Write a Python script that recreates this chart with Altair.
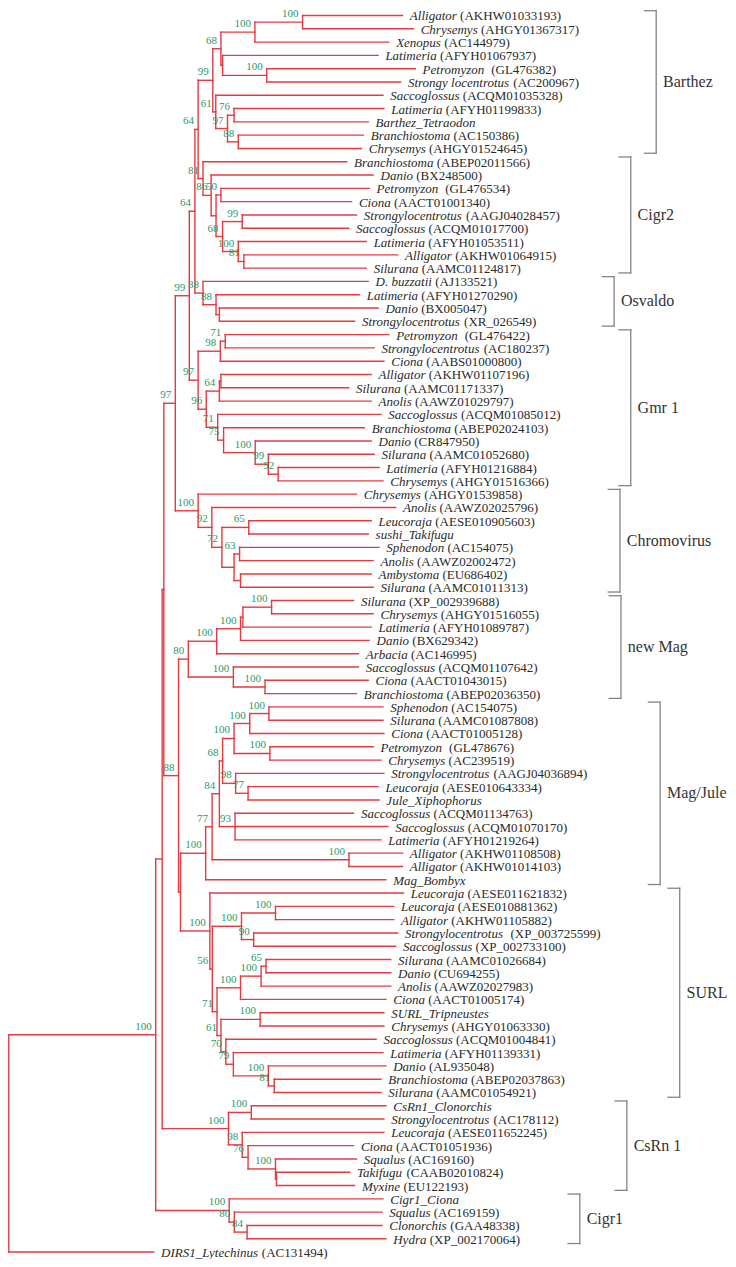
import altair as alt
import pandas as pd

# ---------------- data ----------------
genus = ["Alligator", "Chrysemys", "Xenopus", "Latimeria", "Petromyzon", "Strongy locentrotus",
         "Saccoglossus", "Latimeria", "Barthez_Tetraodon", "Branchiostoma", "Chrysemys",
         "Branchiostoma", "Danio", "Petromyzon", "Ciona", "Strongylocentrotus", "Saccoglossus",
         "Latimeria", "Alligator", "Silurana",
         "D. buzzatii", "Latimeria", "Danio", "Strongylocentrotus",
         "Petromyzon", "Strongylocentrotus", "Ciona", "Alligator", "Silurana", "Anolis",
         "Saccoglossus", "Branchiostoma", "Danio", "Silurana", "Latimeria", "Chrysemys",
         "Chrysemys", "Anolis", "Leucoraja", "sushi_Takifugu", "Sphenodon", "Anolis",
         "Ambystoma", "Silurana",
         "Silurana", "Chrysemys", "Latimeria", "Danio", "Arbacia", "Saccoglossus", "Ciona",
         "Branchiostoma",
         "Sphenodon", "Silurana", "Ciona", "Petromyzon", "Chrysemys", "Strongylocentrotus",
         "Leucoraja", "Jule_Xiphophorus", "Saccoglossus", "Saccoglossus", "Latimeria",
         "Alligator", "Alligator", "Mag_Bombyx",
         "Leucoraja", "Leucoraja", "Alligator", "Strongylocentrotus", "Saccoglossus", "Silurana",
         "Danio", "Anolis", "Ciona", "SURL_Tripneustes", "Chrysemys", "Saccoglossus",
         "Latimeria", "Danio", "Branchiostoma", "Silurana",
         "CsRn1_Clonorchis", "Strongylocentrotus", "Leucoraja", "Ciona", "Squalus", "Takifugu",
         "Myxine",
         "Cigr1_Ciona", "Squalus", "Clonorchis", "Hydra",
         "DIRS1_Lytechinus"]

accession = ["(AKHW01033193)", "(AHGY01367317)", "(AC144979)", "(AFYH01067937)", " (GL476382)",
             "(AC200967)", "(ACQM01035328)", "(AFYH01199833)", "", "(AC150386)", "(AHGY01524645)",
             "(ABEP02011566)", "(BX248500)", " (GL476534)", "(AACT01001340)", "(AAGJ04028457)",
             "(ACQM01017700)", "(AFYH01053511)", "(AKHW01064915)", "(AAMC01124817)",
             "(AJ133521)", "(AFYH01270290)", "(BX005047)", "(XR_026549)",
             " (GL476422)", "(AC180237)", "(AABS01000800)", "(AKHW01107196)", "(AAMC01171337)",
             "(AAWZ01029797)", "(ACQM01085012)", "(ABEP02024103)", "(CR847950)", "(AAMC01052680)",
             "(AFYH01216884)", "(AHGY01516366)",
             "(AHGY01539858)", "(AAWZ02025796)", "(AESE010905603)", "", "(AC154075)",
             "(AAWZ02002472)", "(EU686402)", "(AAMC01011313)",
             "(XP_002939688)", "(AHGY01516055)", "(AFYH01089787)", "(BX629342)", "(AC146995)",
             "(ACQM01107642)", "(AACT01043015)", "(ABEP02036350)",
             "(AC154075)", "(AAMC01087808)", "(AACT01005128)", " (GL478676)", "(AC239519)",
             "(AAGJ04036894)", "(AESE010643334)", "", "(ACQM01134763)", "(ACQM01070170)",
             "(AFYH01219264)", "(AKHW01108508)", "(AKHW01014103)", "",
             "(AESE011621832)", "(AESE010881362)", "(AKHW01105882)", " (XP_003725599)",
             "(XP_002733100)", "(AAMC01026684)", "(CU694255)", "(AAWZ02027983)", "(AACT01005174)",
             "", "(AHGY01063330)", "(ACQM01004841)", "(AFYH01139331)", "(AL935048)",
             "(ABEP02037863)", "(AAMC01054921)",
             "", "(AC178112)", "(AESE011652245)", "(AACT01051936)", "(AC169160)",
             "(CAAB02010824)", "(EU122193)",
             "", "(AC169159)", "(GAA48338)", "(XP_002170064)",
             "(AC131494)"]

# distance of each leaf tip from the root (tree units)
leaf_depth = [402, 413, 388, 377, 415, 400, 382, 383, 367, 362, 360,
              345, 372, 368, 350, 355, 347, 365, 397, 365,
              367, 358, 377, 353,
              388, 373, 383, 370, 347, 370, 380, 363, 370, 373, 378, 382,
              355, 395, 370, 367, 378, 372, 370, 372,
              352, 372, 370, 368, 357, 357, 367, 355,
              382, 382, 383, 372, 380, 383, 377, 378, 352, 387, 380, 402, 402, 385,
              403, 393, 393, 397, 395, 390, 390, 390, 385, 383, 383, 375, 382, 385, 380, 380,
              385, 383, 383, 352, 355, 348, 353,
              382, 381, 381, 385,
              148]

# internal nodes: (name, depth from root, bootstrap support, children)
# children: int = leaf number (1-based), str = internal node name
nodes = [
    ("AC", 300.0, 100, [1, 2]), ("ACX", 251.3, 100, ["AC", 3]), ("PS", 263.3, 100, [5, 6]),
    ("LPS", 218.3, None, [4, "PS"]), ("B68", 216.6, 68, ["ACX", "LPS"]),
    ("LB", 230.0, 76, [8, 9]), ("BC", 234.3, 88, [10, 11]), ("B97", 223.3, 97, ["LB", "BC"]),
    ("B61", 211.3, 61, [7, "B97"]), ("B99", 208.3, 99, ["B68", "B61"]),
    ("PC", 216.6, 50, [14, 15]), ("SS", 238.3, 99, [16, 17]), ("AS", 240.0, 81, [19, 20]),
    ("C100", 234.3, 100, [18, "AS"]), ("C68", 218.3, 68, ["SS", "C100"]),
    ("PCX", 211.6, None, ["PC", "C68"]), ("C86", 206.6, 86, [13, "PCX"]),
    ("C81", 198.3, 81, [12, "C86"]), ("T64a", 193.3, 64, ["B99", "C81"]),
    ("DS", 215.0, None, [23, 24]), ("LDS", 211.6, 88, [22, "DS"]), ("Osv", 198.3, 88, [21, "LDS"]),
    ("T64b", 190.0, 64, ["T64a", "Osv"]),
    ("PS2", 221.0, 71, [25, 26]), ("G98", 216.0, 98, ["PS2", 27]), ("ASg", 216.6, None, [28, 29]),
    ("G64", 215.0, 64, ["ASg", 30]), ("G92", 275.0, 92, [35, 36]), ("G99", 265.0, 99, [34, "G92"]),
    ("G100", 251.6, 100, [33, "G99"]), ("G75", 219.3, 75, [32, "G100"]),
    ("G71", 213.3, 71, [31, "G75"]), ("G96", 201.6, 96, ["G64", "G71"]),
    ("G97", 193.3, 97, ["G98", "G96"]), ("T99", 184.3, 99, ["T64b", "G97"]),
    ("H65", 245.0, 65, [39, 40]), ("SA", 235.6, 63, [41, 42]), ("AmS", 236.6, None, [43, 44]),
    ("H63", 230.0, None, ["SA", "AmS"]), ("H72", 217.6, 72, ["H65", "H63"]),
    ("H92", 207.3, 92, [38, "H72"]), ("H100", 193.3, 100, [37, "H92"]),
    ("T97", 170.0, 97, ["T99", "H100"]),
    ("SC", 268.3, 100, [45, 46]), ("SCL", 239.0, None, ["SC", 47]),
    ("N100", 236.6, 100, ["SCL", 48]), ("N100b", 212.3, 100, ["N100", 49]),
    ("CB", 261.6, 100, [51, 52]), ("SCB", 229.3, 100, [50, "CB"]),
    ("N80", 183.3, 80, ["N100b", "SCB"]),
    ("SS2", 265.6, 100, [53, 54]), ("SSC", 246.0, 100, ["SS2", 55]), ("PC2", 266.6, 100, [56, 57]),
    ("M100", 230.0, 100, ["SSC", "PC2"]), ("LJ", 244.3, 77, [59, 60]),
    ("M98", 231.6, 98, [58, "LJ"]), ("M68", 218.3, 68, ["M100", "M98"]),
    ("M93", 231.0, 93, [61, 62, 63]), ("M84", 215.0, 84, ["M68", "M93"]),
    ("AA", 347.3, 100, [64, 65]), ("M77", 207.6, 77, ["M84", "AA"]),
    ("M100b", 201.0, 100, ["M77", 66]),
    ("LA", 272.3, 100, [68, 69]), ("SS3", 250.0, 90, [70, 71]), ("S100a", 237.6, 100, ["LA", "SS3"]),
    ("SD", 262.6, 65, [72, 73]), ("SDA", 257.6, 100, ["SD", 74]), ("S100b", 236.6, 100, ["SDA", 75]),
    ("SC3", 256.6, 100, [76, 77]), ("S81", 271.0, 81, [81, 82]), ("S100c", 265.0, 100, [80, "S81"]),
    ("S79", 229.3, 79, [79, "S100c"]), ("S70", 221.6, 70, [78, "S79"]),
    ("S61", 216.6, 61, ["SC3", "S70"]), ("S71", 212.6, 71, ["S100b", "S61"]),
    ("S56", 207.8, 56, ["S100a", "S71"]), ("S100", 205.3, 100, [67, "S56"]),
    ("MS", 175.3, None, ["M100b", "S100"]), ("T88", 173.3, 88, ["N80", "MS"]),
    ("Q", 158.3, None, ["T97", "T88"]),
    ("CS", 247.6, 100, [83, 84]), ("TM", 273.3, None, [88, 89]), ("R100", 272.3, 100, [87, "TM"]),
    ("R76", 244.3, 76, [86, "R100"]), ("R98", 238.3, 98, [85, "R76"]),
    ("R100b", 224.3, 100, ["CS", "R98"]), ("P1", 156.6, None, ["Q", "R100b"]),
    ("CH", 243.3, 84, [92, 93]), ("K80", 230.3, 80, [91, "CH"]), ("K100", 225.0, 100, [90, "K80"]),
    ("T100", 150.0, 100, ["P1", "K100"]),
    ("root", 0.0, None, ["T100", 94]),
]

clade_names = ["Barthez", "Cigr2", "Osvaldo", "Gmr 1", "Chromovirus", "new Mag", "Mag/Jule",
               "SURL", "CsRn 1", "Cigr1"]
clade_first = [1, 12, 21, 25, 37, 45, 53, 67, 83, 90]
clade_last = [11, 20, 24, 36, 44, 52, 66, 82, 89, 93]

# ---------------- style / layout ----------------
RED = "#e53a41"
GREEN = "#2a9a68"
TEXT = "#2a2a2a"
GREY = "#858585"
FONT = "Liberation Serif"
LEAF_FS = 13
BOOT_FS = 11
CLADE_FS = 16
W, H = 720, 1251
X_DOM = [-0.8, 734.3]
Y_DOM = [-0.564, 93.524]
PX_PER_UNIT = W / (X_DOM[1] - X_DOM[0])
LABEL_GAP = 7.5
bracket_depth = [661, 635, 618, 635, 624, 625, 665, 685, 631, 583]
TICK = 12
HALF = 0.36

ITALIC = dict(zip("ABCDEFGHIJKLMNOPQRSTUVWXYZ",
                  [611, 611, 667, 722, 611, 611, 722, 722, 333, 444, 667, 556, 833, 667, 722,
                   611, 722, 611, 500, 556, 722, 611, 833, 611, 556, 556]))
ITALIC.update(dict(zip("abcdefghijklmnopqrstuvwxyz",
                       [500, 500, 444, 500, 444, 278, 500, 500, 278, 278, 444, 278, 722, 500,
                        500, 500, 500, 389, 389, 278, 500, 444, 667, 444, 444, 389])))
ITALIC.update({c: 500 for c in "0123456789"})
ITALIC.update({" ": 250, ".": 250, "_": 500})


def italic_px(s):
    return sum(ITALIC.get(c, 500) for c in s) * LEAF_FS / 1000.0


# ---------------- tree layout ----------------
pos_y = {i + 1: float(i) for i in range(len(genus))}
pos_x = {i + 1: float(d) for i, d in enumerate(leaf_depth)}
segs = []
boot = []
for name, depth, sup, kids in nodes:
    ys = [pos_y[k] for k in kids]
    pos_x[name] = depth
    pos_y[name] = (ys[0] + ys[-1]) / 2.0
    segs.append({"x": depth, "x2": depth, "y": ys[0], "y2": ys[-1]})
    for k in kids:
        segs.append({"x": depth, "x2": pos_x[k], "y": pos_y[k], "y2": pos_y[k]})
    if sup is not None:
        boot.append({"x": depth, "y": pos_y[name], "t": str(sup)})

seg_df = pd.DataFrame(segs)
boot_df = pd.DataFrame(boot)

leaf_rows = []
for i, (g, a) in enumerate(zip(genus, accession)):
    lead = len(a) - len(a.lstrip(" "))
    gx = leaf_depth[i] + LABEL_GAP
    ax = gx + (italic_px(g) + (1 + lead) * 0.25 * LEAF_FS) / PX_PER_UNIT
    leaf_rows.append({"gx": gx, "ax": ax, "y": float(i), "g": g, "a": a.strip()})
leaf_df = pd.DataFrame(leaf_rows)

br = []
cl = []
for n, f, l, bx in zip(clade_names, clade_first, clade_last, bracket_depth):
    top, bot = f - 1 - HALF, l - 1 + HALF
    br.append({"x": bx, "x2": bx, "y": top, "y2": bot})
    br.append({"x": bx - TICK, "x2": bx, "y": top, "y2": top})
    br.append({"x": bx - TICK, "x2": bx, "y": bot, "y2": bot})
    cl.append({"x": bx + 7, "y": (top + bot) / 2.0, "t": n})
br_df = pd.DataFrame(br)
cl_df = pd.DataFrame(cl)

XS = alt.Scale(domain=X_DOM, nice=False, zero=False)
YS = alt.Scale(domain=Y_DOM, nice=False, zero=False, reverse=True)


def xy(xf="x", yf="y"):
    return dict(x=alt.X(f"{xf}:Q", scale=XS, axis=None), y=alt.Y(f"{yf}:Q", scale=YS, axis=None))


tree = alt.Chart(seg_df).mark_rule(color=RED, strokeWidth=1.4, strokeCap="square").encode(
    **xy(), x2="x2:Q", y2="y2:Q")
brackets = alt.Chart(br_df).mark_rule(color=GREY, strokeWidth=1.3, strokeCap="square").encode(
    **xy(), x2="x2:Q", y2="y2:Q")
gtext = alt.Chart(leaf_df).mark_text(align="left", baseline="middle", font=FONT, fontSize=LEAF_FS,
                                     fontStyle="italic", color=TEXT, dy=1).encode(
    **xy("gx"), text="g:N")
atext = alt.Chart(leaf_df).mark_text(align="left", baseline="middle", font=FONT, fontSize=LEAF_FS,
                                     color=TEXT, dy=1).encode(**xy("ax"), text="a:N")
btext = alt.Chart(boot_df).mark_text(align="right", baseline="middle", font=FONT, fontSize=BOOT_FS,
                                     color=GREEN, dx=-4, dy=-8).encode(**xy(), text="t:N")
ctext = alt.Chart(cl_df).mark_text(align="left", baseline="middle", font=FONT, fontSize=CLADE_FS,
                                   color="#333333").encode(**xy(), text="t:N")

chart = alt.layer(tree, brackets, gtext, atext, btext, ctext).properties(
    width=W, height=H, padding=0, autosize="none"
).configure_view(stroke=None)

chart.save("out.html", embed_options={"renderer": "svg", "actions": False})
